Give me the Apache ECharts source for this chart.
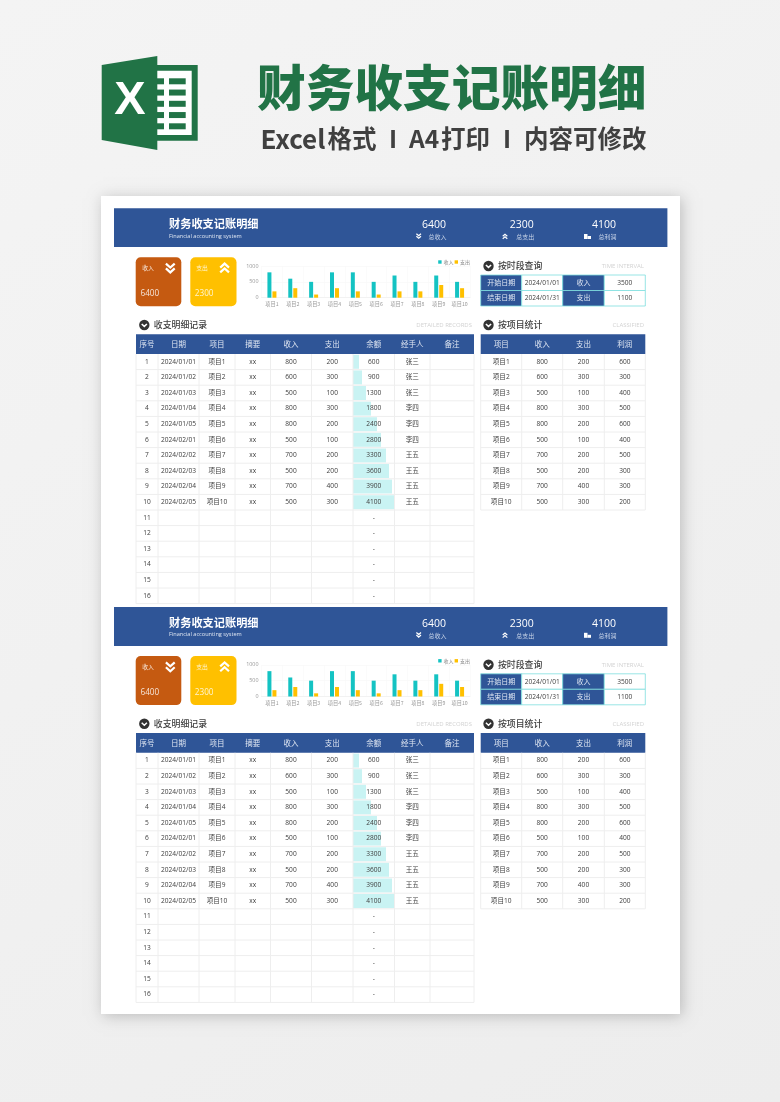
<!DOCTYPE html>
<html>
<head>
<meta charset="utf-8">
<style>html,body{margin:0;padding:0;background:#f1f1f1}#container{width:780px;height:1102px}</style>
<script src="https://cdn.jsdelivr.net/npm/echarts@6/dist/echarts.min.js"></script>
</head>
<body>
<div id="container"></div>
<script>
// data
var projects = ['项目1','项目2','项目3','项目4','项目5','项目6','项目7','项目8','项目9','项目10'];
var dates = ['2024/01/01','2024/01/02','2024/01/03','2024/01/04','2024/01/05','2024/02/01','2024/02/02','2024/02/03','2024/02/04','2024/02/05'];
var income = [800,600,500,800,800,500,700,500,700,500];
var expense = [200,300,100,300,200,100,200,200,400,300];
var balance = [600,900,1300,1800,2400,2800,3300,3600,3900,4100];
var profit = [600,300,400,500,600,400,500,300,300,200];
var handlers = ['张三','张三','张三','李四','李四','李四','王五','王五','王五','王五'];
var rowNumbers = ['1','2','3','4','5','6','7','8','9','10','11','12','13','14','15','16'];
var detailHeader = ['序号','日期','项目','摘要','收入','支出','余额','经手人','备注'];
var classHeader = ['项目','收入','支出','利润'];
var totals = [['6400','总收入'],['2300','总支出'],['4100','总利润']];
var queryRows = [['开始日期','2024/01/01','收入','3500'],['结束日期','2024/01/31','支出','1100']];

// layout settings
var BLUE = '#2f5597', TEAL = '#14c3c3', YELLOW = '#ffc000', ORANGE = '#c55a11', GREEN = '#217346';
var LINE = '#eeeeee', DARK = '#404040';
var FONT = '"Open Sans","Noto Sans CJK SC",sans-serif';
var CJK = '"Noto Sans CJK SC",sans-serif';
var detailX = [136,158,199,235,270.5,311.5,353,394.5,430,474];
var classX = [480.7,521.7,562.7,604.3,645.3];
var HEAD_TOP = 334.3, HEAD_BOTTOM = 354, ROW_H = 15.6, BLOCK_STEP = 398.8;

var el = [];
function rect(x, y, w, h, fill, z, r, extra) {
    var style = {fill: fill};
    for (var k in (extra || {})) style[k] = extra[k];
    el.push({type: 'rect', z: z || 1, shape: {x: x, y: y, width: w, height: h, r: r || 0}, style: style});
}
function text(t, x, y, font, fill, align) {
    el.push({type: 'text', z: 20, style: {text: t, x: x, y: y, font: font, fill: fill,
        textAlign: align || 'center', textVerticalAlign: 'middle'}});
}
function line(x1, y1, x2, y2, color, width, z) {
    el.push({type: 'line', z: z || 3, shape: {x1: x1, y1: y1, x2: x2, y2: y2},
        style: {stroke: color, lineWidth: width || 1}});
}
// double chevron, dir 1 = down, -1 = up
function chevrons(cx, cy, size, color, width, dir) {
    [-1, 1].forEach(function (s) {
        var my = cy + s * size * 0.55;
        el.push({type: 'polyline', z: 20, shape: {points: [
            [cx - size, my - dir * size * 0.45], [cx, my + dir * size * 0.45], [cx + size, my - dir * size * 0.45]
        ]}, style: {stroke: color, lineWidth: width, fill: 'none'}});
    });
}
function sectionTitle(cx, y, title, sub, subRight) {
    el.push({type: 'circle', z: 5, shape: {cx: cx, cy: y, r: 5.2}, style: {fill: '#333333'}});
    el.push({type: 'polyline', z: 20, shape: {points: [[cx - 2.6, y - 1], [cx, y + 1.4], [cx + 2.6, y - 1]]},
        style: {stroke: '#fff', lineWidth: 1.5, fill: 'none'}});
    text(title, cx + 9.5, y, '500 8.9px ' + CJK, DARK, 'left');
    text(sub, subRight, y, '6px ' + FONT, '#d2d2d2', 'right');
}

// page backdrop
rect(0, 0, 780, 1102, {type: 'linear', x: 0, y: 0, x2: 1, y2: 1, colorStops: [
    {offset: 0, color: '#f4f4f4'}, {offset: 1, color: '#ededed'}]}, -5);
// excel logo
rect(157, 65, 40.7, 75.7, GREEN, 1);
rect(157, 70.7, 34.7, 64.3, '#ffffff', 2);
for (var s = 0; s < 5; s++) {
    rect(157, 78.3 + s * 11.25, 7, 6, GREEN, 3);
    rect(169, 78.3 + s * 11.25, 16.7, 6, GREEN, 3);
}
el.push({type: 'polygon', z: 4, shape: {points: [[101.7,65],[157.3,56],[157.3,150],[101.7,140]]}, style: {fill: GREEN}});
text('X', 130, 101.5, 'bold 47px "Liberation Sans Narrow","Liberation Sans",sans-serif', '#ffffff');
// hero text
text('财务收支记账明细', 257, 87, '900 48.7px ' + CJK, GREEN, 'left');
var SUB = 'bold 24.5px ' + CJK;
text('Excel', 260.5, 139, 'bold 26px ' + CJK, DARK, 'left');
text('格式', 327.5, 139, SUB, DARK, 'left');
text('I', 393, 139, SUB, DARK);
text('A4', 409, 139, SUB, DARK, 'left');
text('打印', 441, 139, SUB, DARK, 'left');
text('I', 507, 139, SUB, DARK);
text('内容可修改', 524, 139, SUB, DARK, 'left');
// white sheet
rect(101, 196, 579, 818, '#ffffff', -1, 0, {shadowBlur: 14, shadowColor: 'rgba(0,0,0,0.22)', shadowOffsetX: 2, shadowOffsetY: 2});

var grids = [], xAxes = [], yAxes = [], series = [], legends = [];

function drawBlock(dy) {
    // title band
    rect(114, 208.3 + dy, 553.4, 38.8, BLUE, 2);
    text('财务收支记账明细', 169, 224 + dy, 'bold 11.2px ' + CJK, '#ffffff', 'left');
    text('Financial accounting system', 169, 236 + dy, '5.6px ' + FONT, '#dfe6f2', 'left');
    var tx = [434, 521.7, 604];
    totals.forEach(function (item, i) {
        text(item[0], tx[i], 225 + dy, '10.5px ' + FONT, '#ffffff');
        text(item[1], tx[i] + 3.5, 236.5 + dy, '6px ' + CJK, '#c8d4e8');
    });
    chevrons(418.7, 236 + dy, 2.3, '#ffffff', 1.2, 1);
    chevrons(505, 236.5 + dy, 2.3, '#ffffff', 1.2, -1);
    rect(584, 234 + dy, 3.5, 5, '#ffffff', 5);
    rect(587.5, 236 + dy, 3.5, 3, '#ffffff', 5);

    // summary cards
    rect(135.7, 257.3 + dy, 45.6, 49, ORANGE, 2, 5);
    rect(190.3, 257.3 + dy, 46.2, 49, YELLOW, 2, 5);
    text('收入', 148, 267.5 + dy, '5.8px ' + CJK, '#f6e6da');
    text('支出', 202, 267.5 + dy, '5.8px ' + CJK, '#fff4d0');
    text(totals[0][0], 140.5, 293.5 + dy, '8.2px ' + FONT, '#f6e6da', 'left');
    text(totals[1][0], 194.8, 293.5 + dy, '8.2px ' + FONT, '#fff4d0', 'left');
    chevrons(170.3, 268 + dy, 4.4, '#ffffff', 2.2, 1);
    chevrons(224.6, 268 + dy, 4.4, '#ffffff', 2.2, -1);

    // section titles
    sectionTitle(144.3, 325 + dy, '收支明细记录', 'DETAILED RECORDS', 472);
    sectionTitle(488.5, 266 + dy, '按时段查询', 'TIME INTERVAL', 644);
    sectionTitle(488.5, 325 + dy, '按项目统计', 'CLASSIFIED', 644);

    // time query block
    queryRows.forEach(function (row, r) {
        var top = 275 + r * 15.5 + dy;
        row.forEach(function (cell, c) {
            var x = classX[c], w = classX[c + 1] - classX[c], isHead = c % 2 === 0;
            rect(x, top, w, 15.5, isHead ? BLUE : '#ffffff', 2, 0, {stroke: '#7fdede', lineWidth: 0.8});
            text(cell, x + w / 2, top + 7.9, (isHead ? '7px ' : '6.6px ') + FONT, isHead ? '#dfe6f2' : DARK);
        });
    });

    // detail table
    rect(detailX[0], HEAD_TOP + dy, detailX[9] - detailX[0], HEAD_BOTTOM - HEAD_TOP, BLUE, 2);
    detailHeader.forEach(function (h, c) {
        var cx = (detailX[c] + detailX[c + 1]) / 2;
        text(h, cx, 344 + dy, '7.5px ' + CJK, '#dfe6f2');
    });
    rowNumbers.forEach(function (n, r) {
        var y = HEAD_BOTTOM + ROW_H * r + ROW_H / 2 + dy;
        line(detailX[0], HEAD_BOTTOM + ROW_H * (r + 1) + dy, detailX[9], HEAD_BOTTOM + ROW_H * (r + 1) + dy, LINE);
        var cells = r < 10 ? [n, dates[r], projects[r], 'xx', String(income[r]), String(expense[r]), String(balance[r]), handlers[r], '']
                           : [n, '', '', '', '', '', '-', '', ''];
        cells.forEach(function (v, c) {
            if (v) text(v, (detailX[c] + detailX[c + 1]) / 2, y, '6.6px ' + FONT, DARK);
        });
    });
    detailX.forEach(function (x) {
        line(x, HEAD_BOTTOM + dy, x, HEAD_BOTTOM + ROW_H * 16 + dy, LINE);
    });

    // project table
    rect(classX[0], HEAD_TOP + dy, classX[4] - classX[0], HEAD_BOTTOM - HEAD_TOP, BLUE, 2);
    classHeader.forEach(function (h, c) {
        text(h, (classX[c] + classX[c + 1]) / 2, 344 + dy, '7.5px ' + CJK, '#dfe6f2');
    });
    projects.forEach(function (p, r) {
        var y = HEAD_BOTTOM + ROW_H * r + ROW_H / 2 + dy;
        line(classX[0], HEAD_BOTTOM + ROW_H * (r + 1) + dy, classX[4], HEAD_BOTTOM + ROW_H * (r + 1) + dy, LINE);
        [p, income[r], expense[r], profit[r]].forEach(function (v, c) {
            text(String(v), (classX[c] + classX[c + 1]) / 2, y, '6.6px ' + FONT, DARK);
        });
    });
    classX.forEach(function (x) {
        line(x, HEAD_BOTTOM + dy, x, HEAD_BOTTOM + ROW_H * 10 + dy, LINE);
    });

    // income / expense column chart
    var g = grids.length;
    grids.push({left: 261.5, width: 208.5, top: 266 + dy, height: 31.7});
    xAxes.push({gridIndex: g, type: 'category', data: projects,
        axisLine: {lineStyle: {color: '#f2f2f2'}}, axisTick: {show: false},
        splitLine: {show: true, lineStyle: {color: '#f8f8f8', width: 0.6}},
        axisLabel: {interval: 0, fontSize: 5.2, color: '#999999', margin: 3.5, fontFamily: CJK}});
    yAxes.push({gridIndex: g, type: 'value', min: 0, max: 1000, interval: 500,
        axisLine: {show: false}, axisTick: {show: false},
        splitLine: {lineStyle: {color: '#f6f6f6', width: 0.6}},
        axisLabel: {fontSize: 5.4, color: '#999999', margin: 3, fontFamily: FONT,
            formatter: function (v) { return String(v); }}});
    series.push({name: '收入', type: 'bar', xAxisIndex: g, yAxisIndex: g, data: income, barWidth: 4, barGap: '25%',
        itemStyle: {color: TEAL}, z: 5, silent: true});
    series.push({name: '支出', type: 'bar', xAxisIndex: g, yAxisIndex: g, data: expense, barWidth: 4,
        itemStyle: {color: YELLOW}, z: 5, silent: true});
    legends.push({right: 310, top: 259.5 + dy, itemWidth: 3.4, itemHeight: 3.4, itemGap: 1, icon: 'rect', padding: 0,
        textStyle: {fontSize: 5, color: '#888888', fontFamily: CJK, padding: [0, 0, 0, -3]},
        data: ['收入', '支出']});

    // balance data bars inside the 余额 column
    var b = grids.length;
    grids.push({left: detailX[6], width: 41, top: HEAD_BOTTOM + dy, height: ROW_H * 16});
    xAxes.push({gridIndex: b, type: 'value', min: 0, max: 4100, show: false});
    yAxes.push({gridIndex: b, type: 'category', inverse: true, data: rowNumbers, show: false});
    series.push({name: '余额', type: 'bar', xAxisIndex: b, yAxisIndex: b, data: balance, barWidth: 14,
        itemStyle: {color: '#c9f3f3'}, z: 2, silent: true});
}

drawBlock(0);
drawBlock(BLOCK_STEP);

var dom = document.getElementById('container');
var myChart = echarts.init(dom);
var option = {
    animation: false,
    tooltip: {show: false},
    grid: grids,
    xAxis: xAxes,
    yAxis: yAxes,
    legend: legends,
    graphic: {elements: el},
    series: series
};
myChart.setOption(option, true);
</script>
</body>
</html>
